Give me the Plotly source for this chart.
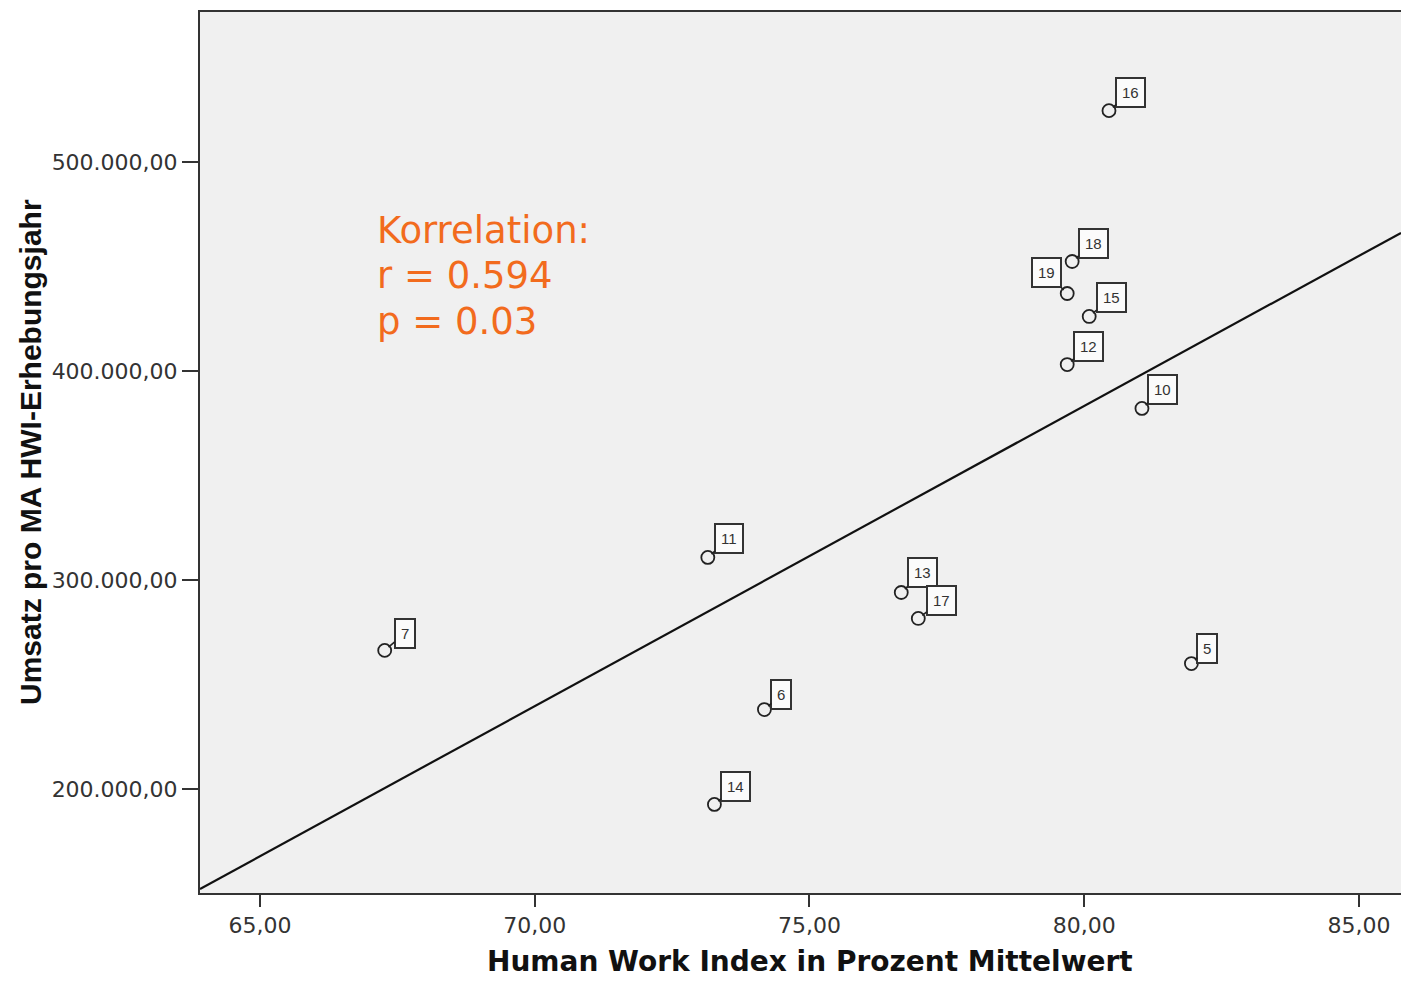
import numpy as np
import plotly.graph_objects as go

# Case numbers, HWI mean (%) and revenue per employee in the survey year
case_ids = ["16", "18", "19", "15", "12", "10", "11", "13", "17", "7", "5", "6", "14"]
hwi_mean = [80.45, 79.78, 79.69, 80.09, 79.69, 81.05, 73.15, 76.67, 76.98, 67.27, 81.95, 74.18, 73.27]
revenue = [524600, 452400, 437100, 426100, 403100, 382100, 310800, 294000, 281600, 266300, 260000, 238000, 192600]

# Pixel offsets of each case label box from its point
label_dx = [22, 21, -21, 22, 21, 21, 21, 21, 23, 20, 16, 17, 21]
label_dy = [-18, -18, -21, -19, -18, -19, -19, -20, -18, -17, -15, -15, -18]

stats_lines = ["Korrelation:", "r = 0.594", "p = 0.03"]

x_ticks = [65, 70, 75, 80, 85]
x_tick_text = ["65,00", "70,00", "75,00", "80,00", "85,00"]
y_ticks = [200000, 300000, 400000, 500000]
y_tick_text = ["200.000,00", "300.000,00", "400.000,00", "500.000,00"]

x_range = [63.909, 85.764]
y_range = [150200, 571800]

# Linear fit line across the full x range
slope, intercept = np.polyfit(hwi_mean, revenue, 1)
fit_x = np.array(x_range)
fit_y = slope * fit_x + intercept

axis_color = "#333333"
W, H = 1401, 981
ML, MR, MT, MB = 200, 0, 12, 88
pw, ph = W - ML - MR, H - MT - MB


def px_to_paper(px, py):
    return (px - ML) / pw, (H - MB - py) / ph


fig = go.Figure()

fig.add_trace(go.Scatter(
    x=fit_x, y=fit_y, mode="lines",
    line=dict(color="#111111", width=2.2),
    hoverinfo="skip", showlegend=False,
))

fig.add_trace(go.Scatter(
    x=hwi_mean, y=revenue, mode="markers",
    marker=dict(symbol="circle-open", size=13, color="#222222", line=dict(width=1.8)),
    showlegend=False,
))

annotations = []
for cid, xv, yv, dx, dy in zip(case_ids, hwi_mean, revenue, label_dx, label_dy):
    annotations.append(dict(
        x=xv, y=yv, xref="x", yref="y", text=cid,
        showarrow=True, arrowhead=0, arrowwidth=1.6, arrowcolor="#222222",
        ax=dx, ay=dy, standoff=5,
        font=dict(family="Liberation Sans, Arial, sans-serif", size=15, color="#333333"),
        bgcolor="#fbfbfb", bordercolor="#333333", borderwidth=2, borderpad=5,
    ))

# correlation statistics, one line per annotation
for i, line in enumerate(stats_lines):
    sx, sy = px_to_paper(375, 230 + 45.5 * i)
    annotations.append(dict(
        x=sx, y=sy, xref="paper", yref="paper", xanchor="left", yanchor="middle",
        text=line, showarrow=False,
        font=dict(family="DejaVu Sans, Verdana, sans-serif", size=37, color="#F26B1D"),
    ))

tx, ty = px_to_paper(30, 452)
annotations.append(dict(
    x=tx, y=ty, xref="paper", yref="paper", xanchor="center", yanchor="middle",
    showarrow=False, text="Umsatz pro MA HWI-Erhebungsjahr", textangle=-90,
    font=dict(family="Liberation Sans, Arial, sans-serif", size=30, color="#111111", weight="bold"),
))
tx, ty = px_to_paper(810, 962)
annotations.append(dict(
    x=tx, y=ty, xref="paper", yref="paper", xanchor="center", yanchor="middle",
    showarrow=False, text="Human Work Index in Prozent Mittelwert",
    font=dict(family="DejaVu Sans, Verdana, sans-serif", size=28, color="#111111", weight="bold"),
))

fig.update_layout(
    width=W, height=H,
    margin=dict(l=ML, r=MR, t=MT, b=MB, pad=0),
    paper_bgcolor="white", plot_bgcolor="#f0f0f0",
    annotations=annotations,
    xaxis=dict(
        range=x_range, tickvals=x_ticks, ticktext=x_tick_text,
        showgrid=False, zeroline=False,
        showline=True, mirror=True, linecolor=axis_color, linewidth=2,
        ticks="outside", ticklen=12, tickwidth=2, tickcolor=axis_color,
        tickfont=dict(family="DejaVu Sans, Verdana, sans-serif", size=22, color="#333333"),
    ),
    yaxis=dict(
        range=y_range, tickvals=y_ticks, ticktext=y_tick_text,
        showgrid=False, zeroline=False,
        showline=True, linecolor=axis_color, linewidth=2,
        ticks="outside", ticklen=16, tickwidth=2, tickcolor=axis_color,
        tickfont=dict(family="DejaVu Sans, Verdana, sans-serif", size=22, color="#333333"),
    ),
)

fig.write_html("out.html")
